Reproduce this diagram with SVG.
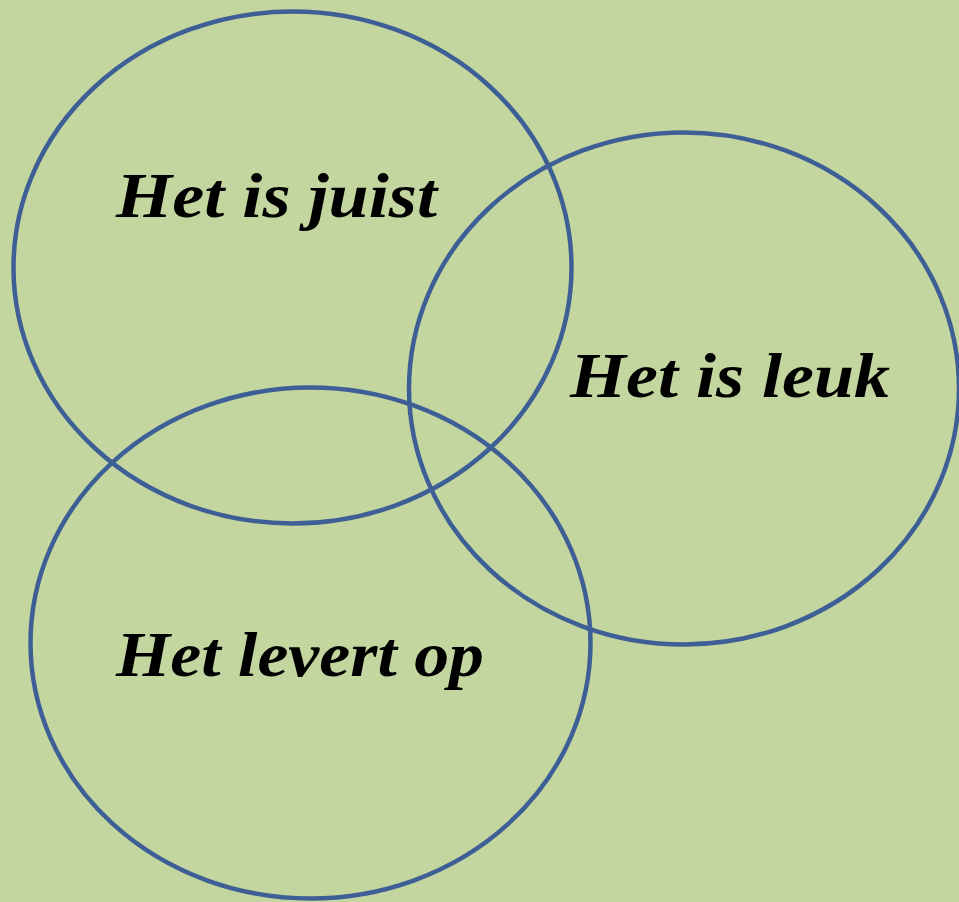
<svg xmlns="http://www.w3.org/2000/svg" width="959" height="902" viewBox="0 0 959 902">
<style>
.bg{fill:#c3d69f}
.ring{fill:none;stroke:#3e5f96;stroke-width:4.5}
.lbl{font-family:"Liberation Serif","DejaVu Serif",serif;font-style:italic;font-weight:bold;font-size:64px;fill:#000}
</style>
<rect class="bg" x="0" y="0" width="959" height="902"/>
<g id="set-juist">
<ellipse class="ring" cx="292.5" cy="267.5" rx="279" ry="256"/>
<text class="lbl" x="116" y="217" textLength="321" lengthAdjust="spacingAndGlyphs">Het is juist</text>
</g>
<g id="set-leuk">
<ellipse class="ring" cx="684" cy="388.5" rx="275" ry="256"/>
<text class="lbl" x="570" y="397" textLength="320" lengthAdjust="spacingAndGlyphs">Het is leuk</text>
</g>
<g id="set-levert">
<ellipse class="ring" cx="310.5" cy="643" rx="280" ry="255.5"/>
<text class="lbl" x="116" y="676" textLength="368" lengthAdjust="spacingAndGlyphs">Het levert op</text>
</g>
<g id="connectors"/>
</svg>
